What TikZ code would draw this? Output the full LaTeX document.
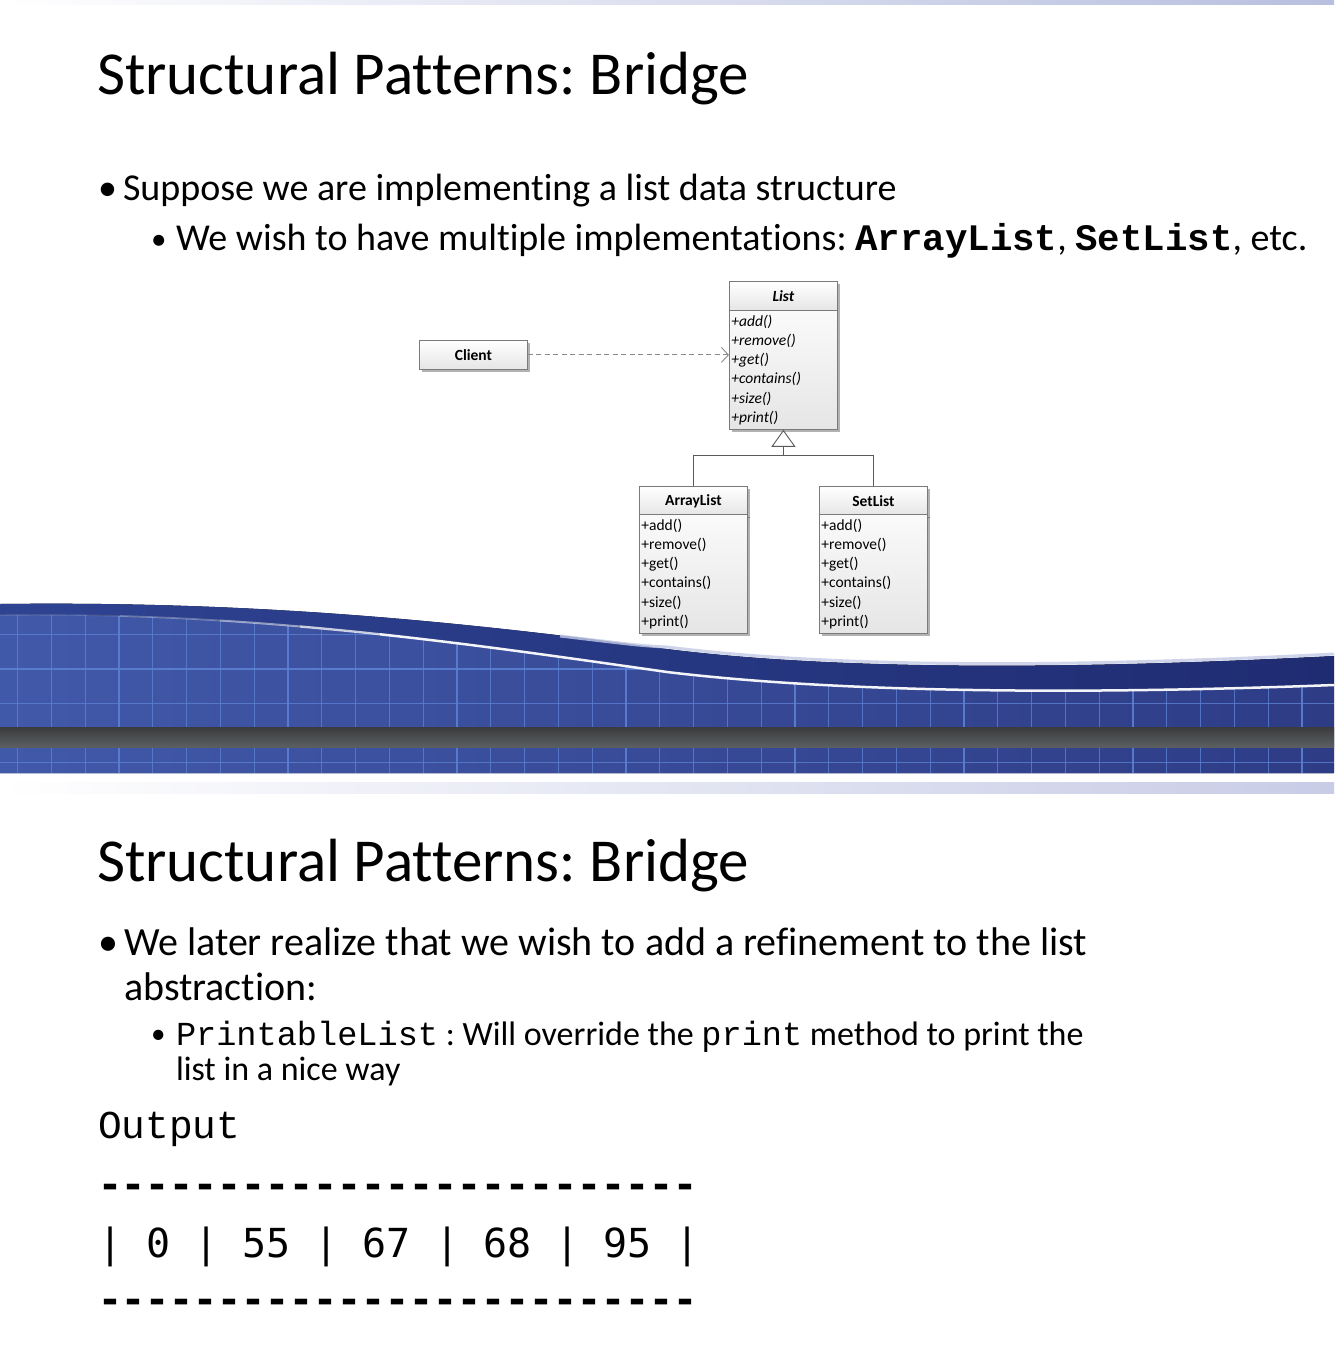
\documentclass[tikz,border=0pt]{standalone}
\usepackage{fontspec}
\setmainfont{Carlito}[Ligatures=NoCommon]
\newfontfamily\monoR{Liberation Mono}
\newfontfamily\dvmono{DejaVu Sans Mono}
\usetikzlibrary{arrows.meta,shadows,calc}
\definecolor{umlline}{HTML}{7A7A7A}
\definecolor{edgegray}{HTML}{5A5A5A}
\definecolor{dashgray}{HTML}{8A8A8A}
\definecolor{bandL}{HTML}{2E4392}
\definecolor{bandR}{HTML}{1F2C72}
\definecolor{gridL}{HTML}{4159A9}
\definecolor{gridR}{HTML}{2E3C86}
\definecolor{gridline}{HTML}{5B80D2}
\definecolor{barTop}{HTML}{3A3B3D}
\definecolor{barBot}{HTML}{5C5F62}
\definecolor{stripR}{HTML}{B8BFDF}
\definecolor{stripR2}{HTML}{C8CCE6}
\definecolor{glow}{HTML}{C3CAE6}
\newcommand{\umlfont}{\fontsize{15.5}{19.2}\selectfont}
\newcommand{\wavewhite}{(0,615) .. controls (250,612) and (450,641) .. (667,672)
  .. controls (850,694) and (1100,694) .. (1334,685)}
\frenchspacing
\begin{document}
\begin{tikzpicture}[x=1pt,y=-1pt,
  txt/.style={anchor=base west, inner sep=0pt, outer sep=0pt},
  titlefont/.style={font=\fontsize{61}{70}\selectfont},
  bulfont/.style={font=\fontsize{38}{45}\selectfont},
  bulfontB/.style={font=\fontsize{40}{45}\selectfont},
  subfont/.style={font=\fontsize{34}{40}\selectfont},
  umlhead/.style={draw=umlline, line width=0.8pt, top color=white, bottom color=black!10,
    inner sep=0pt, minimum width=108pt, minimum height=29pt,
    drop shadow={shadow xshift=2.5pt, shadow yshift=-2.5pt, fill=black, opacity=0.3}},
  umlbody/.style={draw=umlline, line width=0.8pt, top color=black!2, bottom color=black!10,
    inner xsep=2pt, inner ysep=0pt, text width=104pt, minimum height=119pt, align=left,
    drop shadow={shadow xshift=2.5pt, shadow yshift=-2.5pt, fill=black, opacity=0.3}},
  umledge/.style={draw=edgegray, line width=0.9pt},
  gline/.style={draw=gridline, line width=0.9pt, opacity=0.8},
  gmajor/.style={draw=gridline, line width=1.8pt, opacity=0.9}
]
\useasboundingbox (0,0) rectangle (1334,1346);
\fill[white] (0,0) rectangle (1334,1346);

% top and separator strips
\fill[left color=white, right color=stripR] (0,0) rectangle (1334,5);
\fill[left color=white, right color=stripR2] (0,782) rectangle (1334,793);

% wave band
\fill[left color=bandL, right color=bandR]
  (0,604) .. controls (250,601) and (450,620) .. (667,649)
  .. controls (850,672) and (1100,668) .. (1334,656) -- (1334,773) -- (0,773) -- cycle;
\draw[glow, line width=3pt, opacity=0.8]
  (560,636) .. controls (620,643) and (640,646) .. (667,647)
  .. controls (850,670) and (1100,666) .. (1334,654);
\begin{scope}
  \clip \wavewhite -- (1334,773) -- (0,773) -- cycle;
  \fill[left color=gridL, right color=gridR] (0,590) rectangle (1334,773);
  \foreach \i in {0,...,39}{
    \pgfmathtruncatemacro{\m}{mod(\i,5)}
    \ifnum\m=3
      \draw[gmajor] ({17.6+33.8*\i},590) -- ({17.6+33.8*\i},773);
    \else
      \draw[gline] ({17.6+33.8*\i},590) -- ({17.6+33.8*\i},773);
    \fi
  }
  \foreach \yy in {634,703,762}{ \draw[gline] (0,\yy) -- (1334,\yy); }
  \draw[gmajor] (0,669) -- (1334,669);
\end{scope}
% white highlight line, fading in from the left
\foreach \xa/\xb/\op/\lw in {0/120/0.15/1.4, 120/220/0.3/1.7, 220/300/0.5/2, 300/380/0.75/2.3, 380/1334/0.95/2.5}{
  \begin{scope}
    \clip (\xa,590) rectangle (\xb,720);
    \draw[white, line width=\lw pt, opacity=\op] \wavewhite;
  \end{scope}
}
\fill[top color=barTop, bottom color=barBot] (0,727) rectangle (1334,747);

% ---------- slide 1 text ----------
\node[txt, titlefont] (title1) at (97,94) {Structural Patterns: Bridge};
\node[txt, bulfont] (bul1) at (98,200) {•};
\node[txt, bulfont] (text1) at (123,200) {Suppose we are implementing a list data structure};
\node[txt, font=\fontsize{31}{36}\selectfont] (bul2) at (151,249) {•};
\node[txt, bulfont] (text2) at (176,250) {We wish to have multiple implementations: {\monoR\bfseries\fontsize{37.4}{40}\selectfont ArrayList}, {\monoR\bfseries\fontsize{37.4}{40}\selectfont SetList}, etc.};

% ---------- UML ----------
\node[umlhead, anchor=north west, font=\umlfont\bfseries\itshape] (listH) at (729,281) {List};
\node[umlbody, anchor=north west, font=\umlfont\itshape] (listB) at (729,310)
  {+add()\\+remove()\\+get()\\+contains()\\+size()\\+print()};
\node[umlhead, anchor=north west, font=\umlfont\bfseries] (client) at (419,340) {Client};
\node[umlhead, anchor=north west, font=\umlfont\bfseries] (arrH) at (639,486) {ArrayList};
\node[umlbody, anchor=north west, font=\umlfont] (arrB) at (639,514)
  {+add()\\+remove()\\+get()\\+contains()\\+size()\\+print()};
\node[umlhead, anchor=north west, font=\umlfont\bfseries] (setH) at (819,486) {SetList};
\node[umlbody, anchor=north west, font=\umlfont] (setB) at (819,514)
  {+add()\\+remove()\\+get()\\+contains()\\+size()\\+print()};

\draw[draw=dashgray, line width=0.9pt, dash pattern=on 5pt off 3.5pt,
  -{Straight Barb[length=7pt,width=15pt,line width=0.9pt]}]
  (client.east) -- (client.east -| listB.west);
\draw[umledge] (arrH.north) -- ++(0,-31) coordinate (jA) -- (jA -| setH.north) -- (setH.north);
\draw[umledge, -{Triangle[open, length=17pt, width=24pt, fill=white, line width=0.9pt]}]
  (jA -| listB.south) -- (listB.south);

% ---------- slide 2 text ----------
\node[txt, titlefont] (title2) at (97,881) {Structural Patterns: Bridge};
\node[txt, bulfontB] (bul3) at (98,955) {•};
\node[txt, bulfontB] (text3a) at (124,955) {We later realize that we wish to add a refinement to the list};
\node[txt, bulfontB] (text3b) at (124,1000) {abstraction:};
\node[txt, font=\fontsize{29}{34}\selectfont] (bul4) at (151,1043) {•};
\node[txt, subfont] (text4a) at (176,1045) {{\monoR\fontsize{33.6}{40}\selectfont PrintableList} : Will override the {\monoR\fontsize{33.6}{40}\selectfont print} method to print the};
\node[txt, subfont] (text4b) at (176,1080) {list in a nice way};

\node[txt, font=\monoR\fontsize{39.5}{45}\selectfont] (out) at (98,1138) {Output};
\node[txt, font=\dvmono\bfseries\fontsize{39.8}{45}\selectfont] (dash1) at (98,1198) {-------------------------};
\node[txt, font=\dvmono\fontsize{40}{45}\selectfont] (vals) at (98,1257) {|\ 0\ |\ 55\ |\ 67\ |\ 68\ |\ 95\ |};
\node[txt, font=\dvmono\bfseries\fontsize{39.8}{45}\selectfont] (dash2) at (98,1313) {-------------------------};
\end{tikzpicture}
\end{document}
